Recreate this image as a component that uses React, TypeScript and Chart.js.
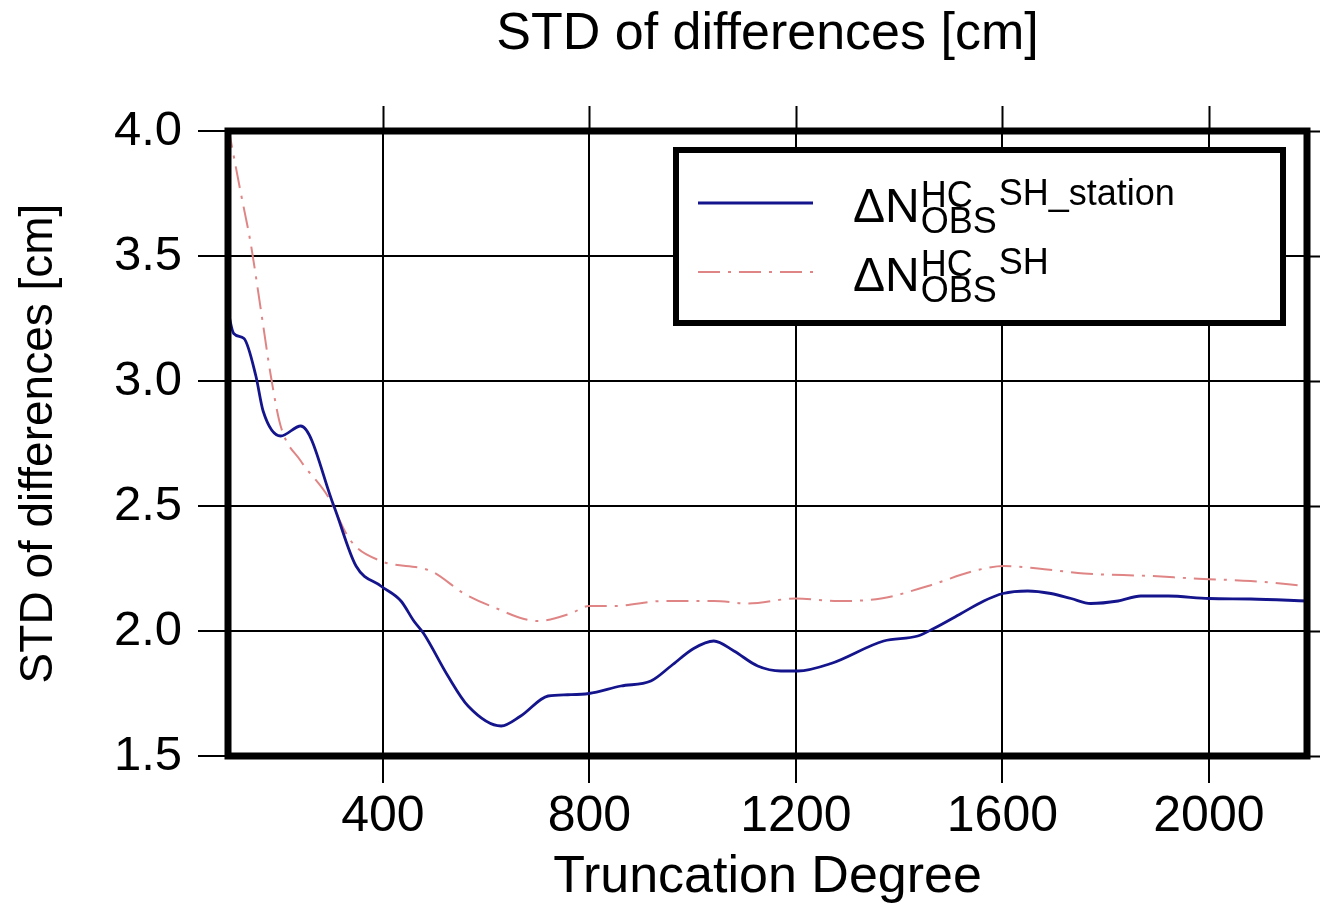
import React, { useEffect, useRef } from "react";
import { Chart, registerables } from "chart.js";

Chart.register(...registerables);

// ---------- data ----------
const degreesStation = [100, 111, 131, 154, 168, 202, 241, 305, 348, 396, 435, 460, 479, 526, 565, 629, 667, 720, 758, 799, 861, 919, 958, 1002, 1041, 1080, 1126, 1171, 1204, 1268, 1370, 1436, 1467, 1520, 1564, 1601, 1649, 1694, 1733, 1771, 1824, 1868, 1921, 2000, 2081, 2190];
const stdStation = [3.28, 3.19, 3.17, 3.02, 2.88, 2.78, 2.82, 2.5, 2.26, 2.18, 2.12, 2.04, 1.99, 1.82, 1.7, 1.62, 1.66, 1.74, 1.745, 1.75, 1.78, 1.8, 1.86, 1.93, 1.96, 1.92, 1.86, 1.84, 1.84, 1.87, 1.96, 1.98, 2.01, 2.07, 2.12, 2.15, 2.16, 2.15, 2.13, 2.11, 2.12, 2.14, 2.14, 2.13, 2.128, 2.12];

const degreesSH = [100, 125, 144, 164, 183, 202, 241, 293, 338, 396, 493, 557, 609, 700, 764, 799, 847, 944, 1041, 1107, 1200, 1281, 1365, 1456, 1545, 1603, 1669, 1758, 1888, 1971, 2081, 2190];
const stdSH = [4.02, 3.75, 3.55, 3.28, 3.02, 2.82, 2.68, 2.54, 2.36, 2.28, 2.24, 2.15, 2.1, 2.04, 2.07, 2.1, 2.1, 2.12, 2.12, 2.11, 2.13, 2.12, 2.13, 2.18, 2.24, 2.26, 2.25, 2.23, 2.22, 2.21, 2.2, 2.18];

const xTicks = [400, 800, 1200, 1600, 2000];
const yTicks = [1.5, 2.0, 2.5, 3.0, 3.5, 4.0];
const xMin = 100;
const xMax = 2190;
const yMin = 1.5;
const yMax = 4.0;

const chartTitle = "STD of differences [cm]";
const xTitle = "Truncation Degree";
const yTitle = "STD of differences [cm]";
const legendMain = "\u0394N";
const legendSup = "HC";
const legendSub = "OBS";
const legendSuffixes = ["SH_station", "SH"];

const FONT = '"Liberation Sans", Arial, Helvetica, sans-serif';
const BLUE = "#14148c";
const RED = "#e08585";
const RED_DASH = [22, 8, 3, 8];

const framePlugin = {
  id: "gmtFrame",
  afterDraw(chart: any) {
    const { ctx, chartArea } = chart;
    const { left, right, top, bottom } = chartArea;
    const xs = chart.scales.x;
    const ys = chart.scales.y;
    ctx.save();
    // outer ticks on top and right
    ctx.strokeStyle = "#000";
    ctx.lineWidth = 2;
    ctx.beginPath();
    for (const v of xTicks) {
      const px = Math.round(xs.getPixelForValue(v)) + 0.5;
      ctx.moveTo(px, top);
      ctx.lineTo(px, top - 25);
    }
    for (const v of yTicks) {
      const py = Math.round(ys.getPixelForValue(v)) + 0.5;
      ctx.moveTo(right, py);
      ctx.lineTo(right + 20, py);
    }
    ctx.stroke();
    // thick frame
    ctx.lineWidth = 7;
    ctx.strokeRect(left, top, right - left, bottom - top);

    // title
    ctx.fillStyle = "#000";
    ctx.font = `52px ${FONT}`;
    ctx.textAlign = "center";
    ctx.textBaseline = "middle";
    ctx.fillText(chartTitle, (left + right) / 2, 35);

    // legend
    const bx = 676, by = 150, bw = 607, bh = 173;
    ctx.fillStyle = "#fff";
    ctx.fillRect(bx, by, bw, bh);
    ctx.lineWidth = 6;
    ctx.strokeStyle = "#000";
    ctx.strokeRect(bx, by, bw, bh);

    const rows = [
      { y: 203, color: BLUE, dash: [] as number[], width: 3 },
      { y: 272, color: RED, dash: RED_DASH, width: 2 },
    ];
    rows.forEach((r, i) => {
      ctx.save();
      ctx.strokeStyle = r.color;
      ctx.lineWidth = r.width;
      ctx.setLineDash(r.dash);
      ctx.beginPath();
      ctx.moveTo(698, r.y);
      ctx.lineTo(813, r.y);
      ctx.stroke();
      ctx.restore();

      const base = r.y + 19;
      ctx.fillStyle = "#000";
      ctx.textAlign = "left";
      ctx.textBaseline = "alphabetic";
      ctx.font = `48px ${FONT}`;
      const x0 = 853;
      ctx.fillText(legendMain, x0, base);
      const x1 = x0 + ctx.measureText(legendMain).width + 1;
      ctx.font = `36px ${FONT}`;
      ctx.fillText(legendSup, x1, base - 15);
      ctx.fillText(legendSub, x1, base + 11);
      const w = Math.max(ctx.measureText(legendSup).width, ctx.measureText(legendSub).width);
      ctx.fillText(legendSuffixes[i], x1 + w + 2, base - 17);
    });
    ctx.restore();
  },
};

export default function App() {
  const ref = useRef<HTMLCanvasElement | null>(null);
  useEffect(() => {
    if (!ref.current) return;
    const chart = new Chart(ref.current, {
      type: "line",
      data: {
        datasets: [
          {
            label: "station",
            data: degreesStation.map((d, i) => ({ x: d, y: stdStation[i] })),
            borderColor: BLUE,
            borderWidth: 2.8,
            pointRadius: 0,
            cubicInterpolationMode: "monotone",
            fill: false,
          },
          {
            label: "SH",
            data: degreesSH.map((d, i) => ({ x: d, y: stdSH[i] })),
            borderColor: RED,
            borderWidth: 2,
            borderDash: RED_DASH,
            pointRadius: 0,
            cubicInterpolationMode: "monotone",
            fill: false,
          },
        ],
      },
      options: {
        animation: false,
        responsive: false,
        devicePixelRatio: 1,
        layout: { padding: { top: 131, right: 13, left: 0, bottom: 0 } },
        plugins: {
          legend: { display: false },
          title: { display: false },
          tooltip: { enabled: false },
        },
        scales: {
          x: {
            type: "linear",
            min: xMin,
            max: xMax,
            afterBuildTicks: (s: any) => {
              s.ticks = xTicks.map((v) => ({ value: v }));
            },
            afterFit: (s: any) => {
              s.height = 153;
            },
            border: { display: false },
            grid: { color: "#000", lineWidth: 2, tickLength: 27, drawTicks: true },
            ticks: {
              color: "#000",
              font: { family: FONT, size: 50 },
              padding: 4,
              maxRotation: 0,
              autoSkip: false,
              callback: (v: any) => String(v),
            },
            title: {
              display: true,
              text: xTitle,
              color: "#000",
              font: { family: FONT, size: 52 },
              padding: { top: 0, bottom: 0 },
            },
          },
          y: {
            type: "linear",
            min: yMin,
            max: yMax,
            afterBuildTicks: (s: any) => {
              s.ticks = yTicks.map((v) => ({ value: v }));
            },
            afterFit: (s: any) => {
              s.width = 228;
            },
            border: { display: false },
            grid: { color: "#000", lineWidth: 2, tickLength: 30, drawTicks: true },
            ticks: {
              color: "#000",
              font: { family: FONT, size: 49 },
              padding: 16,
              callback: (v: any) => Number(v).toFixed(1),
            },
            title: {
              display: true,
              text: yTitle,
              color: "#000",
              font: { family: FONT, size: 46 },
              padding: { top: 12, bottom: 0 },
            },
          },
        },
      },
      plugins: [framePlugin],
    } as any);
    return () => chart.destroy();
  }, []);
  return (
    <div style={{ position: "fixed", left: 0, top: 0, width: 1320, height: 909, background: "#fff" }}>
      <canvas ref={ref} width={1320} height={909} style={{ display: "block" }} />
    </div>
  );
}
